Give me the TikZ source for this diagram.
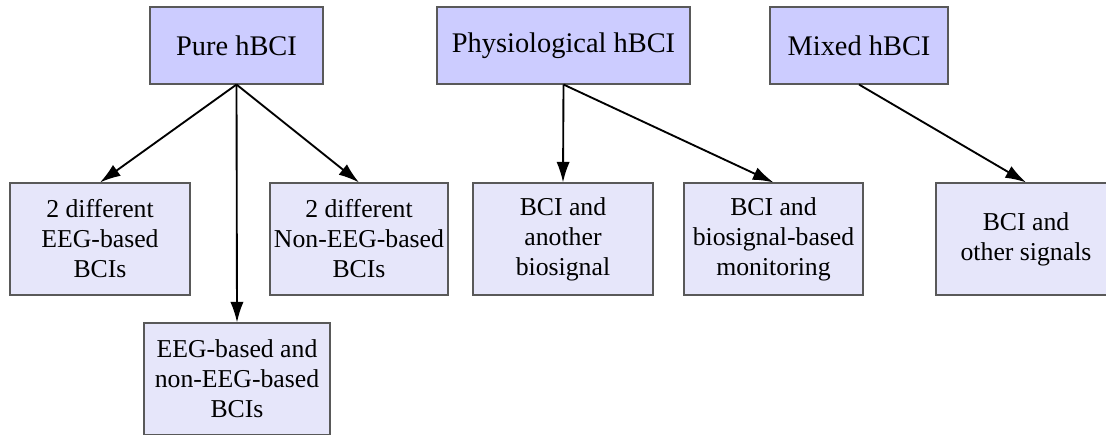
\documentclass[tikz,border=0pt]{standalone}
\usepackage{fontspec}
\setmainfont{LiberationSerif}[Extension=.ttf,UprightFont=*-Regular,BoldFont=*-Bold]
\usetikzlibrary{arrows.meta}
\definecolor{topfill}{HTML}{CCCCFF}
\definecolor{subfill}{HTML}{E6E6FA}
\tikzset{
    kind/.style={draw=black!65,line width=0.8pt,fill=topfill,inner sep=0pt,minimum height=77\pxu,
        align=center,font=\rmfamily\fontsize{21.3}{24}\selectfont},
    sub/.style={draw=black!65,line width=0.8pt,fill=subfill,inner sep=0pt,minimum height=112\pxu,
        align=center,font=\rmfamily\fontsize{19.3}{22.5}\selectfont},
    link/.style={line width=1.4pt,-{Latex[length=15.5pt,width=10pt]}}
}
\newcommand{\pxu}{pt*0.75}
\begin{document}
\begin{tikzpicture}[x=0.75pt,y=0.75pt]
    \useasboundingbox (0,0) rectangle (1106,435);
    % top row
    \node[kind,minimum width=173\pxu] (pure) at (236.5,389.5) {Pure hBCI};
    \node[kind,minimum width=253\pxu] (physio) at (563.5,389.5) {Physiological hBCI};
    \node[kind,minimum width=178\pxu] (mixed) at (859,389.5) {Mixed hBCI};
    % second row
    \node[sub,minimum width=180\pxu] (eegtwo) at (100,196) {2 different\\EEG-based\\BCIs};
    \node[sub,minimum width=178\pxu] (noneegtwo) at (359,196) {2 different\\Non-EEG-based\\BCIs};
    \node[sub,minimum width=186\pxu] (eegmix) at (237,56) {EEG-based and\\non-EEG-based\\BCIs};
    \node[sub,minimum width=180\pxu] (biosig) at (563,196) {BCI and\\another\\biosignal};
    \node[sub,minimum width=179\pxu] (monitor) at (773.5,196) {BCI and\\biosignal-based\\monitoring};
    \node[sub,minimum width=180\pxu] (other) at (1026,196) {BCI and\\other signals};
    % links
    \draw[link] (pure.south) -- (eegtwo.north);
    \draw[link] (pure.south) -- (eegmix.north);
    \draw[link] (pure.south) -- (noneegtwo.north);
    \draw[link] (physio.south) -- (biosig.north);
    \draw[link] (physio.south) -- (monitor.north);
    \draw[link] (mixed.south) -- (other.north);
\end{tikzpicture}
\end{document}
